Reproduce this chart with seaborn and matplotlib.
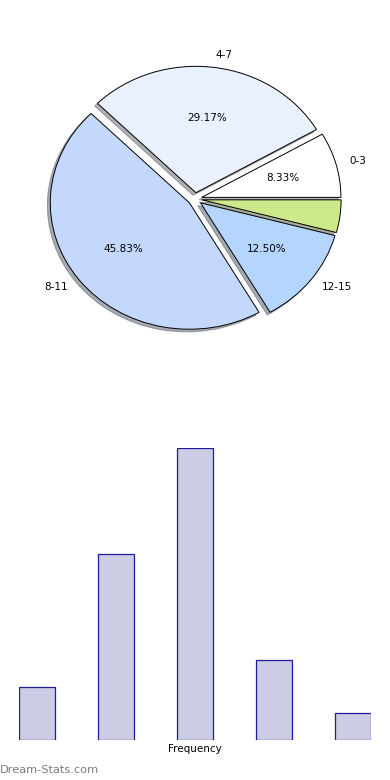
import matplotlib
matplotlib.use("Agg")
import matplotlib.pyplot as plt
import seaborn as sns
import pandas as pd

# data
clases = ['0-3', '4-7', '8-11', '12-15', '']
frecuencias = [2, 7, 11, 3, 1]
colores_pie = ['#ffffff', '#eaf1fe', '#c4d8fe', '#b4d5fe', '#cdea8a']

sns.set_style("white")
plt.rcParams['font.family'] = ['DejaVu Sans']
plt.rcParams['text.color'] = 'black'

fig = plt.figure(figsize=(3.9, 7.8), dpi=100)

# pie (elliptical, like the reference)
ax1 = fig.add_axes([21 / 390, 1 - 357 / 780, 348 / 390, 316 / 780])
ax1.pie(frecuencias, labels=clases, colors=colores_pie, startangle=0,
        explode=[0.05] * len(frecuencias), shadow={'shade': 0.6, 'ox': -0.015, 'oy': -0.015},
        autopct=lambda p: f'{p:.2f}%' if p > 5 else '',
        wedgeprops={'edgecolor': 'black', 'linewidth': 0.7},
        textprops={'fontsize': 7.5, 'color': 'black'})
ax1.set_aspect('auto')
ax1.set_xlim(-1.25, 1.25)
ax1.set_ylim(-1.25, 1.25)

# bars
df = pd.DataFrame({'clase': clases, 'frecuencia': frecuencias})
ax2 = fig.add_axes([19 / 390, 40 / 780, 352 / 390, 292 / 780])
ancho = 0.456
sns.barplot(data=df, x=df.index, y='frecuencia', ax=ax2, width=ancho,
            color='#ccccE5', saturation=1, edgecolor='#1c1c9c', linewidth=0.9)
ax2.set_xlim(-ancho / 2, len(frecuencias) - 1 + ancho / 2)
ax2.set_ylim(0, max(frecuencias))
ax2.set_xticks([])
ax2.set_yticks([])
ax2.set_ylabel('')
ax2.set_xlabel('Frequency', fontsize=7.5, labelpad=3, color='black')
for s in ax2.spines.values():
    s.set_visible(False)

fig.text(0.0, 1 - 770 / 780, 'Dream-Stats.com', fontsize=8.2, color='#7c7c7c',
         ha='left', va='center')

fig.savefig('out.png', dpi=100)
